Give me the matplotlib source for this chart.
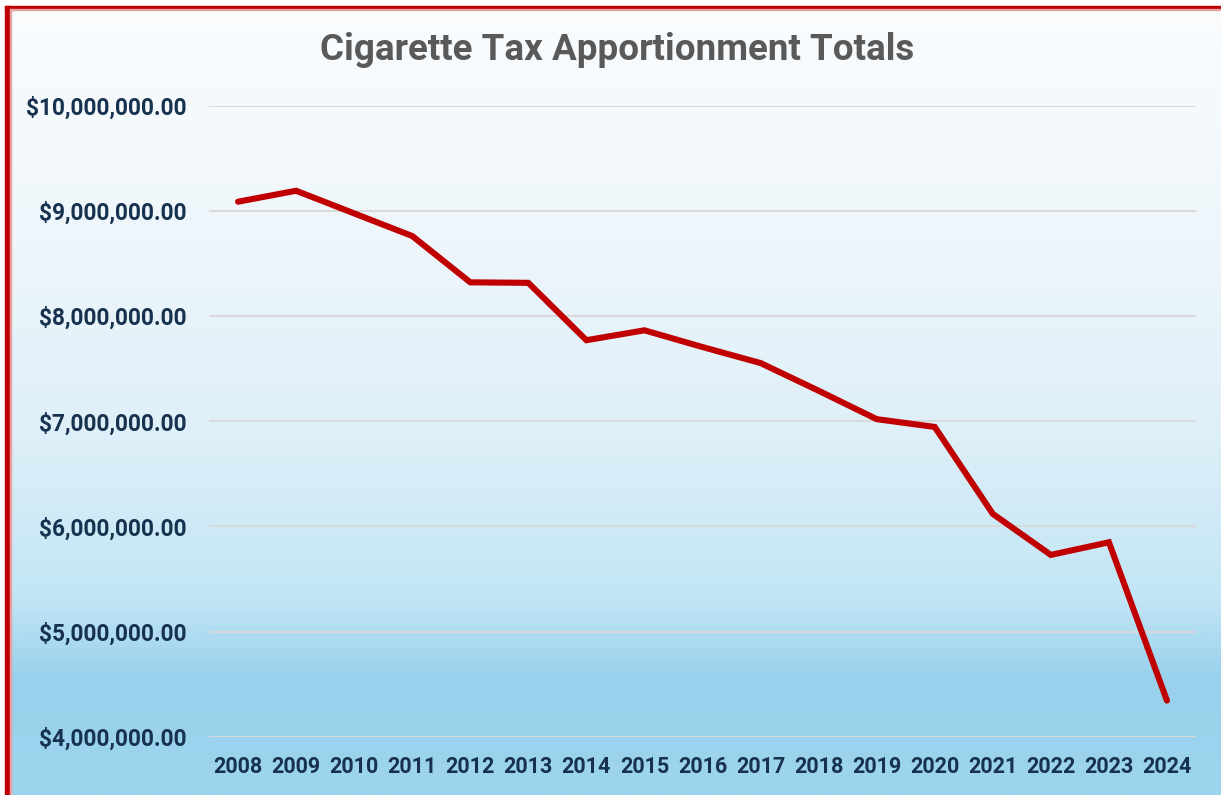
import matplotlib
matplotlib.use("Agg")
import matplotlib.pyplot as plt
import numpy as np
from matplotlib.colors import LinearSegmentedColormap
from matplotlib.patches import Rectangle
from matplotlib.ticker import FuncFormatter

years = ["2008", "2009", "2010", "2011", "2012", "2013", "2014", "2015", "2016",
         "2017", "2018", "2019", "2020", "2021", "2022", "2023", "2024"]
totals = [9086000, 9190000, 8975000, 8760000, 8320000, 8315000, 7770000, 7864000,
          7705000, 7553000, 7290000, 7020000, 6946000, 6120000, 5730000, 5850000, 4346000]
y_ticks = [4000000, 5000000, 6000000, 7000000, 8000000, 9000000, 10000000]
title = "Cigarette Tax Apportionment Totals"

W, H = 1221, 795
fig = plt.figure(figsize=(W / 100, H / 100), dpi=100)
fig.patch.set_facecolor("white")

# background gradient panel
bg = fig.add_axes([10 / W, 0, 1 - 10 / W, (H - 9) / H], zorder=0)
stops = [(0.0, "#FAFCFE"), (0.30, "#EEF6FB"), (0.55, "#DDEFF8"), (0.75, "#C2E5F5"),
         (0.80, "#AEDBF1"), (0.85, "#99D1EC"), (1.0, "#9DD4EE")]
cmap = LinearSegmentedColormap.from_list("bg", stops)
grad = np.linspace(0, 1, 512).reshape(-1, 1)
bg.imshow(grad, aspect="auto", cmap=cmap, extent=[0, 1, 1, 0])
bg.set_axis_off()

# red border (left and top)
fig.patches.append(Rectangle((5 / W, 0), 5 / W, (H - 6) / H, transform=fig.transFigure,
                             color="#C00000", zorder=5))
fig.patches.append(Rectangle((5 / W, (H - 9) / H), 1, 3 / H, transform=fig.transFigure,
                             color="#C00000", zorder=5))
fig.patches.append(Rectangle((10 / W, 0), 1.2 / W, (H - 9) / H, transform=fig.transFigure,
                             color="#E8A0A0", zorder=5))
fig.patches.append(Rectangle((10 / W, (H - 10.2) / H), 1, 1.2 / H, transform=fig.transFigure,
                             color="#E8A0A0", zorder=5))

left, right = 209 / W, 1196 / W
top, bottom = 105.5 / H, 737 / H
ax = fig.add_axes([left, 1 - bottom, right - left, bottom - top], zorder=2)
ax.patch.set_alpha(0)

x = np.arange(len(years))
ax.plot(x, totals, color="#C00000", lw=4.4, solid_capstyle="round",
        solid_joinstyle="miter", zorder=3)

ax.set_xlim(-0.5, len(years) - 0.5)
ax.set_ylim(4000000, 10000000)
ax.set_yticks(y_ticks)
ax.yaxis.set_major_formatter(FuncFormatter(lambda v, p: "${:,.2f}".format(v)))
ax.set_xticks(x)
ax.set_xticklabels(years)
ax.grid(axis="y", color="#D9D9D9", lw=1.4)
ax.set_axisbelow(True)
for s in ax.spines.values():
    s.set_visible(False)
ax.tick_params(length=0, labelcolor="#16324F")
ax.tick_params(axis="y", pad=16, labelsize=16.3)
ax.tick_params(axis="x", pad=14, labelsize=15.5)
for lab in ax.get_xticklabels() + ax.get_yticklabels():
    lab.set_fontfamily("Roboto")
    lab.set_fontweight("bold")

fig.text(617 / W, 1 - 50 / H, title, ha="center", va="center", fontsize=26.5,
         fontweight="bold", color="#595959", family="Roboto", zorder=6)

fig.savefig("out.png", dpi=100)
